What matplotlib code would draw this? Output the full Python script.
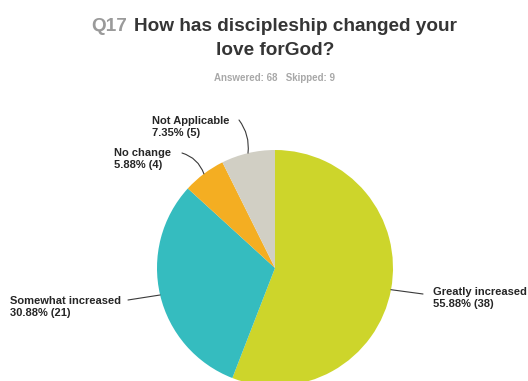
import numpy as np
import matplotlib.pyplot as plt

plt.rcParams['font.family'] = ['Liberation Sans', 'DejaVu Sans']

labels = ["Greatly increased", "Somewhat increased", "No change", "Not Applicable"]
counts = [38, 21, 4, 5]
percents = [55.88, 30.88, 5.88, 7.35]
colors = ["#cdd52b", "#35bcbf", "#f4ae22", "#d1cfc4"]

W, H = 528, 381
fig = plt.figure(figsize=(W / 100, H / 100), dpi=100)
ax = fig.add_axes([0, 0, 1, 1])

cx, cy, r = 275, 268, 118
# y axis is flipped below, so a counter-clockwise pie from -90 reads clockwise from 12 o'clock
wedges, _ = ax.pie(percents, colors=colors, startangle=-90, counterclock=True,
                   center=(cx, cy), radius=r, frame=True,
                   wedgeprops=dict(linewidth=0))
ax.set_xlim(0, W)
ax.set_ylim(H, 0)  # pixel-style coordinates, y grows downward
ax.set_aspect('equal')
ax.axis('off')

# label anchors (left edge, baseline of the second line) and leader-line starts
label_pos = {
    "Greatly increased": (433, 307, (423, 294), 0.0),
    "Somewhat increased": (10, 316, (128, 300), 0.0),
    "No change": (114, 168, (182, 153), -0.25),
    "Not Applicable": (152, 136, (239, 120), -0.2),
}

for w, lab, pct, n in zip(wedges, labels, percents, counts):
    tx, ty, (sx, sy), rad = label_pos[lab]
    mid = np.deg2rad((w.theta1 + w.theta2) / 2)
    ex, ey = cx + r * np.cos(mid), cy + r * np.sin(mid)
    ax.text(tx, ty, f"{lab}\n{pct:.2f}% ({n})", ha='left', va='baseline',
            fontsize=8.0, fontweight='bold', color='#262626', linespacing=1.2)
    ax.annotate("", xy=(ex, ey), xytext=(sx, sy),
                arrowprops=dict(arrowstyle='-', color='#3a3a3a', lw=0.8,
                                connectionstyle=f"arc3,rad={rad}",
                                shrinkA=0, shrinkB=0))

# title
ax.text(91, 31, "Q17", ha='left', va='baseline', fontsize=13.7,
        fontweight='bold', color='#9a9a9a')
ax.text(134, 31, "How has discipleship changed your", ha='left', va='baseline',
        fontsize=13.7, fontweight='bold', color='#353535')
ax.text(275, 55, "love forGod?", ha='center', va='baseline', fontsize=13.7,
        fontweight='bold', color='#353535')
ax.text(275, 81, "Answered: 68   Skipped: 9", ha='center', va='baseline',
        fontsize=7.0, fontweight='bold', color='#a8a8a8')

fig.savefig("out.png", dpi=100)
